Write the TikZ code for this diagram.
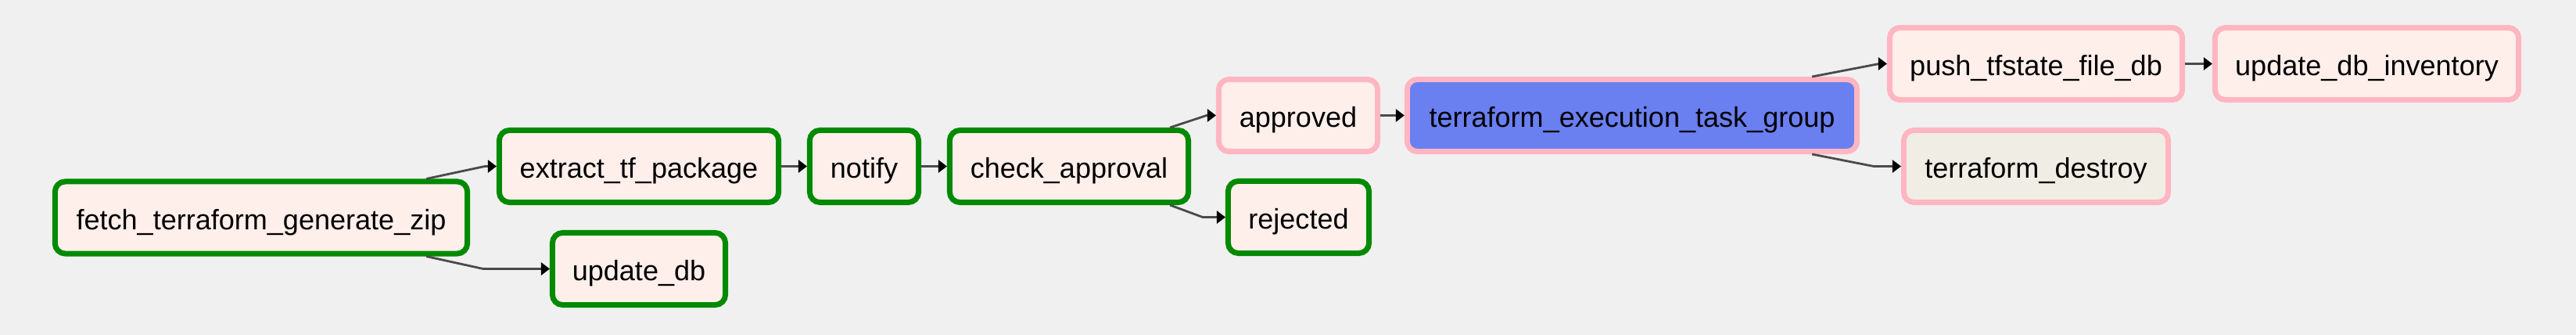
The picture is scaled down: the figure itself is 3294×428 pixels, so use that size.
\documentclass[tikz,border=0pt]{standalone}
\usepackage{fontspec}
\setmainfont{Liberation Sans}
\usetikzlibrary{arrows.meta,calc}
\definecolor{bg}{HTML}{F0F0F0}
\definecolor{taskfill}{HTML}{FFEFEB}
\definecolor{bashfill}{HTML}{F0EDE4}
\definecolor{groupfill}{HTML}{6A7FF0}
\definecolor{okgreen}{HTML}{008A00}
\definecolor{pinkline}{HTML}{FFB6C1}
\definecolor{edgegray}{HTML}{4A4A4A}
\begin{document}
\begin{tikzpicture}[x=0.01cm,y=-0.01cm,
  task/.style={rounded corners=0.13cm, line width=0.07cm, inner sep=0pt,
    minimum height=0.92cm, text height=0.30cm, text depth=0cm,
    font=\fontsize{10.25}{12}\selectfont, text=black},
  donebox/.style={task, draw=okgreen, fill=taskfill},
  waitbox/.style={task, draw=pinkline, fill=taskfill},
  edge/.style={draw=edgegray, line width=0.028cm,
    -{Triangle[length=0.11cm,width=0.16cm,fill=black,color=black]}}]
\fill[bg] (0,0) rectangle (3294,428);
\useasboundingbox (0,0) rectangle (3294,428);

\node[donebox, minimum width=5.27cm] (fetch) at (334,278) {fetch\_terraform\_generate\_zip};
\node[donebox, minimum width=3.57cm] (extract) at (817,212.5) {extract\_tf\_package};
\node[donebox, minimum width=2.21cm] (updatedb) at (817,343.5) {update\_db};
\node[donebox, minimum width=1.39cm] (notify) at (1105,212.5) {notify};
\node[donebox, minimum width=3.05cm] (check) at (1367,212.5) {check\_approval};
\node[waitbox, minimum width=2.03cm] (approved) at (1660,147.5) {approved};
\node[donebox, minimum width=1.80cm] (rejected) at (1660.5,277.5) {rejected};
\node[task, draw=pinkline, fill=groupfill, minimum width=5.75cm] (exec) at (2087,147.5) {terraform\_execution\_task\_group};
\node[waitbox, minimum width=3.74cm] (push) at (2603.5,81.5) {push\_tfstate\_file\_db};
\node[waitbox, minimum width=3.88cm] (updinv) at (3026.5,81.5) {update\_db\_inventory};
\node[task, draw=pinkline, fill=bashfill, minimum width=3.38cm] (destroy) at (2603.5,212.5) {terraform\_destroy};

\draw[edge] ($(fetch.north east)+(-56,0)$) -- ($(extract.west)+(-15,0)$) -- (extract.west);
\draw[edge] ($(fetch.south east)+(-56,0)$) -- ($(updatedb.west)+(-85,0)$) -- (updatedb.west);
\draw[edge] (extract.east) -- (notify.west);
\draw[edge] (notify.east) -- (check.west);
\draw[edge] ($(check.north east)+(-27,0)$) -- ($(approved.west)+(-12,0)$) -- (approved.west);
\draw[edge] ($(check.south east)+(-27,0)$) -- ($(rejected.west)+(-29,0)$) -- (rejected.west);
\draw[edge] (approved.east) -- (exec.west);
\draw[edge] ($(exec.north east)+(-61,0)$) -- ($(push.west)+(-10,0)$) -- (push.west);
\draw[edge] ($(exec.south east)+(-61,0)$) -- ($(destroy.west)+(-35,0)$) -- (destroy.west);
\draw[edge] (push.east) -- (updinv.west);
\end{tikzpicture}
\end{document}
